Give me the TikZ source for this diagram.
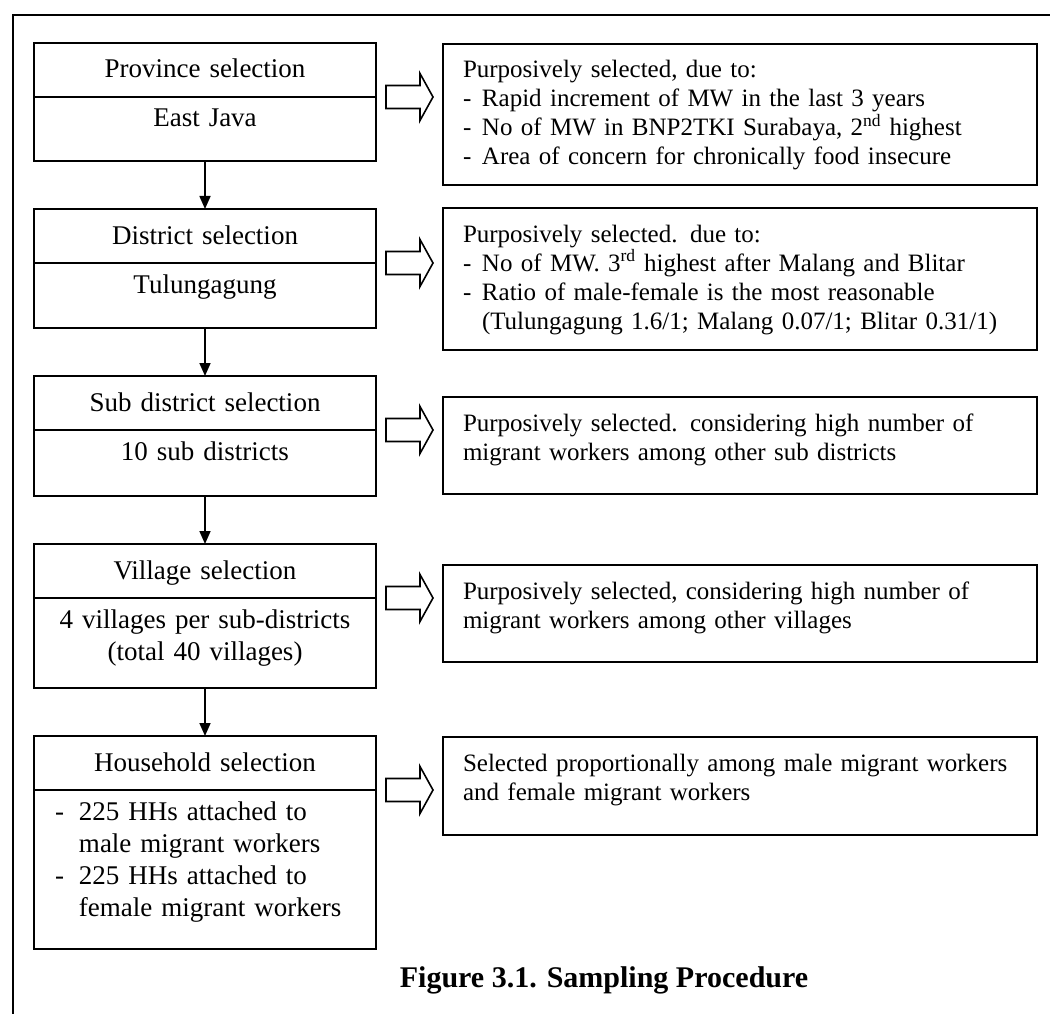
\documentclass[tikz,border=0pt]{standalone}
\usepackage{fontspec}
\setmainfont{Liberation Serif}
\usetikzlibrary{positioning,arrows.meta,calc}
\begin{document}
\begin{tikzpicture}[x=1pt, y=1pt, line width=1.6pt,
    selhead/.style={draw, outer sep=0pt, text width=300pt, inner xsep=21pt, inner ysep=0pt, align=center,
      text height=35pt, text depth=19pt, font=\fontsize{27}{32}\selectfont},
    selbody/.style={draw, outer sep=0pt, text width=300pt, inner xsep=21pt, inner ysep=0pt, align=center,
      text height=30pt, text depth=#1, font=\fontsize{27}{32}\selectfont},
    reason/.style={draw, outer sep=0pt, anchor=north, text width=554pt, inner xsep=20pt, inner ysep=0pt, align=left,
      text height=34pt, text depth=#1, font=\fontsize{25}{29}\selectfont},
    hollowarrow/.pic={\draw (0,-11.5) -- (34,-11.5) -- (34,-23.5) -- (47,0) -- (34,23.5) -- (34,11.5) -- (0,11.5) -- cycle;},
    down/.style={-{Triangle[width=11pt,length=13pt]}}]
    \useasboundingbox (0,0) rectangle (1050,-1014);
    % frame
    \draw (13,-1014) -- (13,-15) -- (1050,-15);
    % selection steps
    \node[selhead] (prov) at (205,-70) {Province selection};
    \node[selbody=34pt, below=0pt of prov] (provB) {East Java};
    \node[selhead, below=48pt of provB] (dist) {District selection};
    \node[selbody=35pt, below=0pt of dist] (distB) {Tulungagung};
    \node[selhead, below=48pt of distB] (sub) {Sub district selection};
    \node[selbody=36pt, below=0pt of sub] (subB) {10 sub districts};
    \node[selhead, below=48pt of subB] (vill) {Village selection};
    \node[selbody=60pt, below=0pt of vill] (villB) {4 villages per sub-districts\\(total 40 villages)};
    \node[selhead, below=48pt of villB] (hh) {Household selection};
    \node[selbody=129pt, align=left, below=0pt of hh] (hhB)
    {\makebox[24pt][l]{-}225 HHs attached to\\ \hspace*{24pt}male migrant workers\\
     \makebox[24pt][l]{-}225 HHs attached to\\ \hspace*{24pt}female migrant workers};
    \draw[down] (provB) -- (dist);
    \draw[down] (distB) -- (sub);
    \draw[down] (subB) -- (vill);
    \draw[down] (villB) -- (hh);
    % reasons
    \node[reason=107pt] (provwhy) at (740,-44) {Purposively selected, due to:\\
      \makebox[19pt][l]{-}Rapid increment of MW in the last 3 years\\
      \makebox[19pt][l]{-}No of MW in BNP2TKI Surabaya, 2\textsuperscript{nd} highest\\
      \makebox[19pt][l]{-}Area of concern for chronically food insecure};
    \node[reason=108pt] (distwhy) at (740,-208) {Purposively selected. due to:\\
      \makebox[19pt][l]{-}No of MW. 3\textsuperscript{rd} highest after Malang and Blitar\\
      \makebox[19pt][l]{-}Ratio of male-female is the most reasonable\\
      \hspace*{19pt}(Tulungagung 1.6/1; Malang 0.07/1; Blitar 0.31/1)};
    \node[reason=63pt] (subwhy) at (740,-397) {Purposively selected. considering high number of\\
      migrant workers among other sub districts};
    \node[reason=63pt] (villwhy) at (740,-565) {Purposively selected, considering high number of\\
      migrant workers among other villages};
    \node[reason=64pt] (hhwhy) at (740,-737) {Selected proportionally among male migrant workers\\
      and female migrant workers};
    \foreach \s in {prov,dist,sub,vill,hh}
      \pic at ($(\s.south east)+(10pt,0pt)$) {hollowarrow};
    \node[font=\fontsize{30}{36}\selectfont\bfseries, anchor=base] (fig) at (604,-987) {Figure 3.1. Sampling Procedure};
\end{tikzpicture}
\end{document}
